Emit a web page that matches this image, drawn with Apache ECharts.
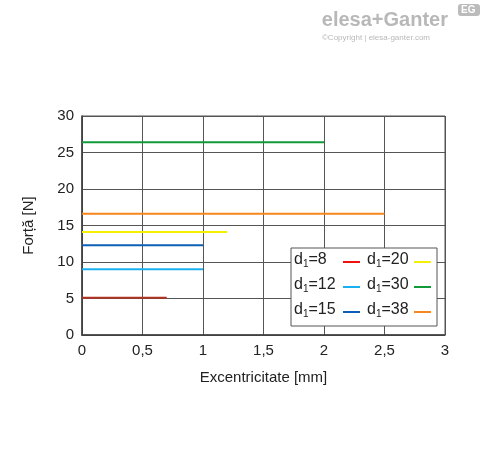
<!DOCTYPE html>
<html>
<head>
<meta charset="utf-8">
<script src="https://cdn.jsdelivr.net/npm/echarts@6/dist/echarts.min.js"></script>
<style>html,body{margin:0;padding:0;background:#fff}#c{width:488px;height:454px}</style>
</head>
<body>
<div id="c"></div>
<script>
const seriesNames = ['8', '12', '15', '20', '30', '38']
const forces = [5.1, 9.0, 12.3, 14.1, 26.4, 16.6]
const maxEcc = [0.7, 1, 1, 1.2, 2, 2.5]
const lineColors = ['#b0321f', '#1ab0f0', '#0d5fb5', '#f5f000', '#119a3a', '#f7861c']
const legendColors = ['#f01010', '#1ab0f0', '#0d5fb5', '#f5f000', '#119a3a', '#f7861c']

const chart = echarts.init(document.getElementById('c'))
const font = 'Arial, "Liberation Sans", sans-serif'

const series = seriesNames.map((n, i) => ({
  name: n,
  type: 'line',
  symbol: 'none',
  lineStyle: { color: lineColors[i], width: 2 },
  data: [[0, forces[i]], [maxEcc[i], forces[i]]],
  z: 3
}))

// legend box built by hand (two columns, subscript text)
const legendEls = [{
  type: 'rect', shape: { x: 291, y: 248, width: 146, height: 78 },
  style: { fill: '#fff', stroke: '#555', lineWidth: 1 }, z: 10
}]
const rowsY = [262, 287, 312]
seriesNames.forEach((n, i) => {
  const col = i < 3 ? 0 : 1
  const y = rowsY[i % 3]
  const tx = col ? 367 : 294
  const lx = col ? 414 : 343
  legendEls.push({
    type: 'text', left: tx, top: y - 10, z: 11,
    style: {
      text: '{a|d}{s|1}{a|=' + n + '}',
      rich: { a: { fontSize: 16, fontFamily: font, fill: '#222' }, s: { fontSize: 10, fontFamily: font, fill: '#222', padding: [9, 0, 0, 0] } }
    }
  })
  legendEls.push({
    type: 'line', z: 11,
    shape: { x1: lx, y1: y, x2: lx + 17, y2: y },
    style: { stroke: legendColors[i], lineWidth: 2 }
  })
})

chart.setOption({
  animation: false,
  grid: { left: 82, right: 43, top: 116, bottom: 119 },
  xAxis: {
    type: 'value', min: 0, max: 3, interval: 0.5,
    name: 'Excentricitate [mm]', nameLocation: 'middle', nameGap: 35,
    nameTextStyle: { fontSize: 15, fontFamily: font, color: '#222' },
    axisLabel: { fontSize: 15, fontFamily: font, color: '#222', formatter: v => String(v).replace('.', ',') },
    axisLine: { lineStyle: { color: '#222', width: 1.5 } },
    axisTick: { show: false },
    splitLine: { lineStyle: { color: '#555', width: 1 } }
  },
  yAxis: {
    type: 'value', min: 0, max: 30, interval: 5,
    name: 'Forță [N]', nameLocation: 'middle', nameGap: 46,
    nameTextStyle: { fontSize: 15, fontFamily: font, color: '#222' },
    axisLabel: { fontSize: 15, fontFamily: font, color: '#222' },
    axisLine: { show: true, lineStyle: { color: '#222', width: 1.5 } },
    axisTick: { show: false },
    splitLine: { lineStyle: { color: '#555', width: 1 } }
  },
  graphic: [
    { type: 'rect', shape: { x: 82, y: 116, width: 363, height: 219 }, style: { fill: 'none', stroke: '#555', lineWidth: 1 }, z: 2 },
    { type: 'text', right: 40, top: 10, style: { text: 'elesa+Ganter', fontSize: 20, fontWeight: 'bold', fontFamily: font, fill: '#b8b8b8' } },
    { type: 'text', right: 58, top: 34, style: { text: '©Copyright | elesa-ganter.com', fontSize: 8, fontFamily: font, fill: '#b8b8b8' } },
    { type: 'rect', shape: { x: 458, y: 4, width: 22, height: 12, r: 3 }, style: { fill: '#bbb' } },
    { type: 'text', left: 461, top: 5, style: { text: 'EG', fontSize: 10, fontWeight: 'bold', fontFamily: font, fill: '#fff' } }
  ].concat(legendEls),
  series: series
})
</script>
</body>
</html>
